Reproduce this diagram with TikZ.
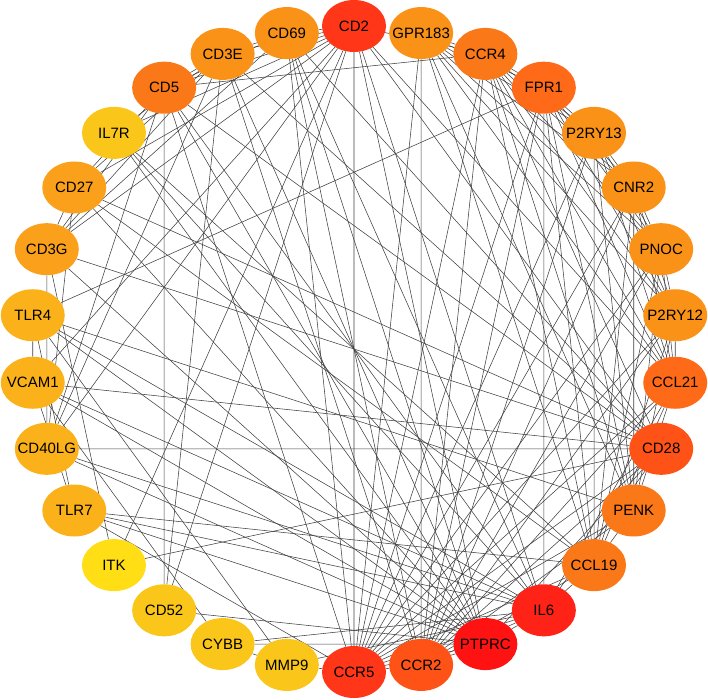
\documentclass[tikz,border=0pt]{standalone}
\usepackage{fontspec}
\setmainfont{Liberation Sans}
\usepackage{tikz}
\usetikzlibrary{shapes.geometric, backgrounds}
\definecolor{DegRed}{RGB}{255, 18, 18}
\definecolor{DegRedA}{RGB}{255, 34, 22}
\definecolor{DegRedB}{RGB}{255, 54, 24}
\definecolor{DegRedC}{RGB}{255, 82, 22}
\definecolor{DegOrangeA}{RGB}{255, 106, 24}
\definecolor{DegOrangeB}{RGB}{251, 120, 24}
\definecolor{DegOrangeC}{RGB}{250, 146, 24}
\definecolor{DegOrangeD}{RGB}{250, 160, 26}
\definecolor{DegAmber}{RGB}{251, 178, 26}
\definecolor{DegAmberB}{RGB}{250, 198, 26}
\definecolor{DegYellow}{RGB}{255, 222, 22}
\newcommand{\gname}[1]{\makebox[0pt]{#1}}
\tikzset{
  gene/.style={ellipse, draw=none, fill=#1, inner sep=0pt,
               minimum width=64pt, minimum height=52pt,
               font=\fontsize{15}{17}\selectfont, text=black},
  link/.style={draw=black!75, line width=0.55pt},
}
\begin{document}
\begin{tikzpicture}[x=1pt, y=1pt]
  \useasboundingbox (-354,-350) rectangle (354,349);

  \node[gene=DegRedB]    (cd2)    at (90:323)   {\gname{CD2}};
  \node[gene=DegOrangeC] (gpr183) at (78:323)   {\gname{GPR183}};
  \node[gene=DegOrangeB] (ccr4)   at (66:323)   {\gname{CCR4}};
  \node[gene=DegOrangeA] (fpr1)   at (54:323)   {\gname{FPR1}};
  \node[gene=DegOrangeC] (p2ry13) at (42:323)   {\gname{P2RY13}};
  \node[gene=DegOrangeC] (cnr2)   at (30:323)   {\gname{CNR2}};
  \node[gene=DegOrangeC] (pnoc)   at (18:323)   {\gname{PNOC}};
  \node[gene=DegOrangeC] (p2ry12) at (6:323)    {\gname{P2RY12}};
  \node[gene=DegOrangeA] (ccl21)  at (-6:323)   {\gname{CCL21}};
  \node[gene=DegRedC]    (cd28)   at (-18:323)  {\gname{CD28}};
  \node[gene=DegOrangeB] (penk)   at (-30:323)  {\gname{PENK}};
  \node[gene=DegOrangeB] (ccl19)  at (-42:323)  {\gname{CCL19}};
  \node[gene=DegRedA]    (il6)    at (-54:323)  {\gname{IL6}};
  \node[gene=DegRed]     (ptprc)  at (-66:323)  {\gname{PTPRC}};
  \node[gene=DegRedC]    (ccr2)   at (-78:323)  {\gname{CCR2}};
  \node[gene=DegRedB]    (ccr5)   at (-90:323)  {\gname{CCR5}};
  \node[gene=DegAmberB]  (mmp9)   at (-102:323) {\gname{MMP9}};
  \node[gene=DegAmberB]  (cybb)   at (-114:323) {\gname{CYBB}};
  \node[gene=DegAmberB]  (cd52)   at (-126:323) {\gname{CD52}};
  \node[gene=DegYellow]  (itk)    at (-138:323) {\gname{ITK}};
  \node[gene=DegAmber]   (tlr7)   at (-150:323) {\gname{TLR7}};
  \node[gene=DegAmber]   (cd40lg) at (-162:323) {\gname{CD40LG}};
  \node[gene=DegAmber]   (vcam1)  at (-174:323) {\gname{VCAM1}};
  \node[gene=DegAmber]   (tlr4)   at (174:323)  {\gname{TLR4}};
  \node[gene=DegOrangeD] (cd3g)   at (162:323)  {\gname{CD3G}};
  \node[gene=DegOrangeD] (cd27)   at (150:323)  {\gname{CD27}};
  \node[gene=DegAmberB]  (il7r)   at (138:323)  {\gname{IL7R}};
  \node[gene=DegOrangeB] (cd5)    at (126:323)  {\gname{CD5}};
  \node[gene=DegOrangeC] (cd3e)   at (114:323)  {\gname{CD3E}};
  \node[gene=DegOrangeC] (cd69)   at (102:323)  {\gname{CD69}};

  \begin{scope}[on background layer]
    % T cell side
    \draw[link] (cd2) -- (cd3e) (cd2) -- (cd3g) (cd2) -- (cd5) (cd2) -- (cd69)
                (cd2) -- (cd27) (cd2) -- (cd28) (cd2) -- (ptprc) (cd2) -- (ccr5)
                (cd2) -- (il7r) (cd2) -- (cd52) (cd2) -- (itk) (cd2) -- (cd40lg)
                (cd2) -- (il6) (cd2) -- (ccr4) (cd2) -- (vcam1) (cd2) -- (ccl21);
    \draw[link] (cd3e) -- (cd3g) (cd3e) -- (cd5) (cd3e) -- (cd28) (cd3e) -- (cd69)
                (cd3e) -- (cd27) (cd3e) -- (ptprc) (cd3e) -- (il7r) (cd3e) -- (cd52)
                (cd3e) -- (cd40lg) (cd3e) -- (ccr2);
    \draw[link] (cd3g) -- (cd5) (cd3g) -- (cd28) (cd3g) -- (cd27) (cd3g) -- (ptprc)
                (cd3g) -- (itk) (cd3g) -- (cd69) (cd3g) -- (cd40lg);
    \draw[link] (cd5) -- (cd28) (cd5) -- (cd52) (cd5) -- (ptprc) (cd5) -- (cd69)
                (cd5) -- (cd27) (cd5) -- (il6) (cd5) -- (ccr5) (cd5) -- (ccr4)
                (cd5) -- (cd40lg);
    \draw[link] (cd69) -- (cd28) (cd69) -- (ptprc) (cd69) -- (il6) (cd69) -- (ccr5)
                (cd69) -- (ccr2);
    \draw[link] (cd27) -- (cd28) (cd27) -- (ptprc) (cd27) -- (cd40lg) (cd27) -- (ccl19);
    \draw[link] (il7r) -- (ptprc) (il7r) -- (il6) (il7r) -- (ccl19);
    \draw[link] (cd28) -- (itk) (cd28) -- (cd40lg) (cd28) -- (ptprc) (cd28) -- (il6)
                (cd28) -- (ccr5) (cd28) -- (ccr4) (cd28) -- (vcam1) (cd28) -- (ccr2);
    \draw[link] (cd40lg) -- (ptprc) (cd40lg) -- (il6) (cd52) -- (ptprc);
    % inflammation side
    \draw[link] (ptprc) -- (il6) (ptprc) -- (ccr5) (ptprc) -- (tlr4) (ptprc) -- (tlr7)
                (ptprc) -- (vcam1) (ptprc) -- (cybb) (ptprc) -- (ccr2);
    \draw[link] (il6) -- (tlr4) (il6) -- (tlr7) (il6) -- (vcam1) (il6) -- (cybb)
                (il6) -- (mmp9) (il6) -- (ccr5) (il6) -- (ccr2) (il6) -- (ccl21)
                (il6) -- (fpr1) (il6) -- (ccl19);
    \draw[link] (tlr4) -- (tlr7) (tlr4) -- (fpr1) (tlr4) -- (mmp9) (tlr4) -- (vcam1)
                (tlr4) -- (penk);
    \draw[link] (tlr7) -- (vcam1) (tlr7) -- (ccl19) (tlr7) -- (ccr5);
    \draw[link] (vcam1) -- (cybb) (cybb) -- (mmp9) (mmp9) -- (ccr5);
    % receptor side
    \draw[link] (gpr183) -- (ccr4) (gpr183) -- (fpr1) (gpr183) -- (p2ry13)
                (gpr183) -- (cnr2) (gpr183) -- (pnoc) (gpr183) -- (p2ry12)
                (gpr183) -- (ccl21) (gpr183) -- (penk) (gpr183) -- (ccl19)
                (gpr183) -- (ccr2) (gpr183) -- (ccr5);
    \draw[link] (ccr4) -- (fpr1) (ccr4) -- (p2ry13) (ccr4) -- (cnr2) (ccr4) -- (pnoc)
                (ccr4) -- (p2ry12) (ccr4) -- (ccl21) (ccr4) -- (penk) (ccr4) -- (ccl19)
                (ccr4) -- (ccr2) (ccr4) -- (ccr5);
    \draw[link] (fpr1) -- (p2ry13) (fpr1) -- (cnr2) (fpr1) -- (pnoc) (fpr1) -- (p2ry12)
                (fpr1) -- (ccl21) (fpr1) -- (penk) (fpr1) -- (ccl19) (fpr1) -- (ccr2)
                (fpr1) -- (ccr5);
    \draw[link] (p2ry13) -- (cnr2) (p2ry13) -- (pnoc) (p2ry13) -- (p2ry12)
                (p2ry13) -- (ccl21) (p2ry13) -- (penk) (p2ry13) -- (ccl19)
                (p2ry13) -- (ccr2) (p2ry13) -- (ccr5);
    \draw[link] (cnr2) -- (pnoc) (cnr2) -- (p2ry12) (cnr2) -- (ccl21) (cnr2) -- (penk)
                (cnr2) -- (ccl19) (cnr2) -- (ccr2) (cnr2) -- (ccr5);
    \draw[link] (pnoc) -- (p2ry12) (pnoc) -- (ccl21) (pnoc) -- (penk) (pnoc) -- (ccl19)
                (pnoc) -- (ccr2) (pnoc) -- (ccr5);
    \draw[link] (p2ry12) -- (ccl21) (p2ry12) -- (penk) (p2ry12) -- (ccl19)
                (p2ry12) -- (ccr2) (p2ry12) -- (ccr5);
    \draw[link] (ccl21) -- (penk) (ccl21) -- (ccl19) (ccl21) -- (ccr2) (ccl21) -- (ccr5);
    \draw[link] (penk) -- (ccl19) (penk) -- (ccr2) (penk) -- (ccr5);
    \draw[link] (ccl19) -- (ccr2) (ccl19) -- (ccr5) (ccr2) -- (ccr5);
  \end{scope}
\end{tikzpicture}
\end{document}
